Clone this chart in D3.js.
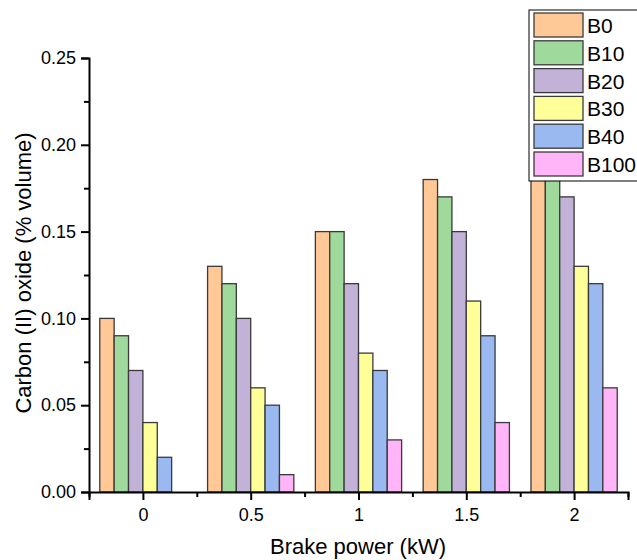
<!DOCTYPE html>
<html>
<head>
<meta charset="utf-8">
<script src="https://d3js.org/d3.v7.min.js"></script>
<style>
  body { margin: 0; background: #fff; }
  text { font-family: Arial, "Liberation Sans", sans-serif; fill: #000; }
</style>
</head>
<body>
<svg id="chart" width="637" height="560"></svg>
<script>
// data
var powers = [0, 0.5, 1, 1.5, 2];
var seriesNames = ["B0", "B10", "B20", "B30", "B40", "B100"];
var B0   = [0.10, 0.13, 0.15, 0.18, 0.21];
var B10  = [0.09, 0.12, 0.15, 0.17, 0.20];
var B20  = [0.07, 0.10, 0.12, 0.15, 0.17];
var B30  = [0.04, 0.06, 0.08, 0.11, 0.13];
var B40  = [0.02, 0.05, 0.07, 0.09, 0.12];
var B100 = [0.00, 0.01, 0.03, 0.04, 0.06];
var xTicks = [0, 0.5, 1, 1.5, 2];
var yTicks = [0, 0.05, 0.10, 0.15, 0.20, 0.25];

var colors = ["#FFC896", "#9FD99B", "#C2B2D8", "#FFFF99", "#99B9F0", "#FFB5F7"];
var series = [B0, B10, B20, B30, B40, B100];

var svg = d3.select("#chart");

var x = d3.scaleLinear().domain([-0.25, 2.25]).range([89, 628]);
var y = d3.scaleLinear().domain([0, 0.25]).range([492, 58]);

var groupW = 0.4, barW = groupW / series.length;

// bars
series.forEach(function(vals, s) {
  svg.append("g").selectAll("rect")
    .data(vals)
    .enter()
    .append("rect")
    .attr("x", function(d, i) { return x(powers[i] - groupW / 2 + s * barW); })
    .attr("width", x(barW) - x(0))
    .attr("y", function(d) { return y(d); })
    .attr("height", function(d) { return y(0) - y(d); })
    .attr("fill", colors[s])
    .attr("stroke", "#3a3a3a")
    .attr("stroke-width", 1.3);
});

// y axis
svg.append("g")
  .attr("transform", "translate(89,0)")
  .call(d3.axisLeft(y).tickValues(yTicks).tickFormat(d3.format(".2f")).tickSize(8).tickPadding(5));
svg.append("g")
  .attr("transform", "translate(89,0)")
  .call(d3.axisLeft(y).tickValues([0.025, 0.075, 0.125, 0.175, 0.225]).tickFormat("").tickSize(5))
  .select(".domain").remove();

// x axis
svg.append("g")
  .attr("transform", "translate(0,492)")
  .call(d3.axisBottom(x).tickValues(xTicks).tickFormat(d3.format("")).tickSize(8).tickPadding(8));
svg.append("g")
  .attr("transform", "translate(0,492)")
  .call(d3.axisBottom(x).tickValues([-0.25, 0.25, 0.75, 1.25, 1.75, 2.25]).tickFormat("").tickSize(5))
  .select(".domain").remove();

svg.selectAll(".domain").attr("stroke-width", 2).attr("stroke", "#000");
svg.selectAll(".tick line").attr("stroke-width", 2).attr("stroke", "#000");
svg.selectAll(".tick text").style("font-size", "18px")
  .style("font-family", "Arial, 'Liberation Sans', sans-serif");

// axis titles
svg.append("text")
  .attr("x", 358).attr("y", 554)
  .attr("text-anchor", "middle")
  .style("font-size", "22px")
  .text("Brake power (kW)");

svg.append("text")
  .attr("transform", "translate(31,273) rotate(-90)")
  .attr("text-anchor", "middle")
  .style("font-size", "22px")
  .text("Carbon (II) oxide (% volume)");

// legend
var legend = svg.append("g");
legend.append("rect")
  .attr("x", 529).attr("y", 10)
  .attr("width", 140).attr("height", 171)
  .attr("fill", "#fff").attr("stroke", "#000").attr("stroke-width", 1);
seriesNames.forEach(function(name, i) {
  var yy = 13 + i * 27.8;
  legend.append("rect")
    .attr("x", 534).attr("y", yy)
    .attr("width", 49).attr("height", 24)
    .attr("fill", colors[i]).attr("stroke", "#3a3a3a").attr("stroke-width", 1.3);
  legend.append("text")
    .attr("x", 587).attr("y", yy + 20)
    .style("font-size", "21px")
    .text(name);
});
</script>
</body>
</html>
